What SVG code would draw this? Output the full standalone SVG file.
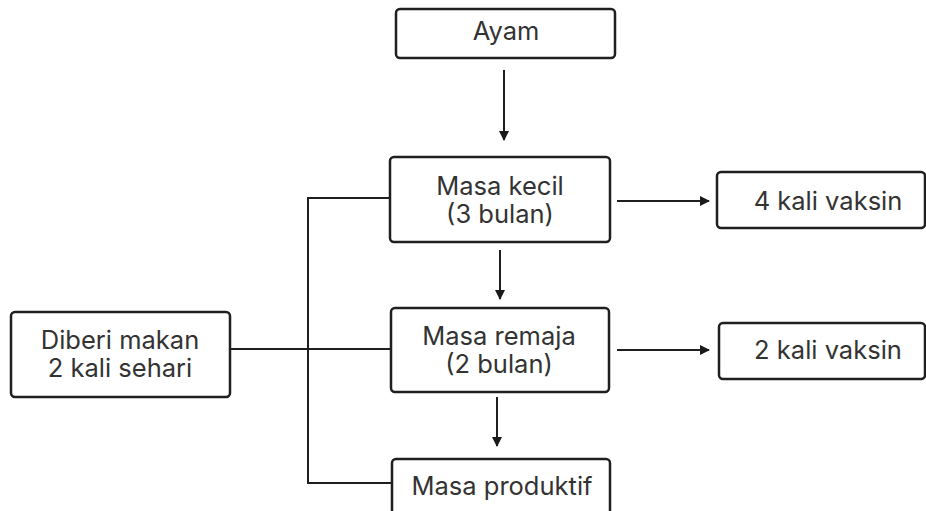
<svg xmlns="http://www.w3.org/2000/svg" width="926" height="511" viewBox="0 0 926 511">
<defs>
<marker id="ah" markerWidth="10" markerHeight="10" refX="9" refY="5" orient="auto" markerUnits="userSpaceOnUse">
<path d="M0,0 L10,5 L0,10 Z" fill="#1a1a1a"/>
</marker>
<style>
.box{fill:#fff;stroke:#1f1f1f;stroke-width:2.5}
.t{font-family:Inter,"Liberation Sans",sans-serif;font-size:25.5px;fill:#333;text-anchor:middle}
.ln{stroke:#1f1f1f;stroke-width:2;fill:none}
</style>
</defs>
<rect width="926" height="511" fill="#fff"/>
<g id="connectors">
<line class="ln" x1="504" y1="70" x2="504" y2="140" marker-end="url(#ah)"/>
<line class="ln" x1="500" y1="250" x2="500" y2="299" marker-end="url(#ah)"/>
<line class="ln" x1="497" y1="397" x2="497" y2="446" marker-end="url(#ah)"/>
<line class="ln" x1="617" y1="201" x2="709" y2="201" marker-end="url(#ah)"/>
<line class="ln" x1="617" y1="350" x2="709" y2="350" marker-end="url(#ah)"/>
<polyline class="ln" points="390,198 308,198 308,483 392,483"/>
<line class="ln" x1="230" y1="349" x2="391" y2="349"/>
</g>
<g id="ayam"><rect class="box" x="396" y="9" width="219" height="49" rx="4"/><text class="t" x="506" y="40">Ayam</text></g>
<g id="masa-kecil"><rect class="box" x="390" y="157" width="220" height="85" rx="4"/><text class="t" x="500" y="195">Masa kecil</text><text class="t" x="500" y="223">(3 bulan)</text></g>
<g id="masa-remaja"><rect class="box" x="391" y="308" width="218" height="84" rx="4"/><text class="t" x="499" y="345">Masa remaja</text><text class="t" x="499" y="373">(2 bulan)</text></g>
<g id="masa-produktif"><rect class="box" x="392" y="459" width="218" height="60" rx="4"/><text class="t" x="502" y="495">Masa produktif</text></g>
<g id="diberi-makan"><rect class="box" x="11" y="312" width="219" height="85" rx="4"/><text class="t" x="120" y="349">Diberi makan</text><text class="t" x="120" y="377">2 kali sehari</text></g>
<g id="vaksin-4"><rect class="box" x="717" y="172" width="208" height="56" rx="4"/><text class="t" x="828" y="210">4 kali vaksin</text></g>
<g id="vaksin-2"><rect class="box" x="719" y="323" width="206" height="56" rx="4"/><text class="t" x="828" y="359">2 kali vaksin</text></g>
</svg>
